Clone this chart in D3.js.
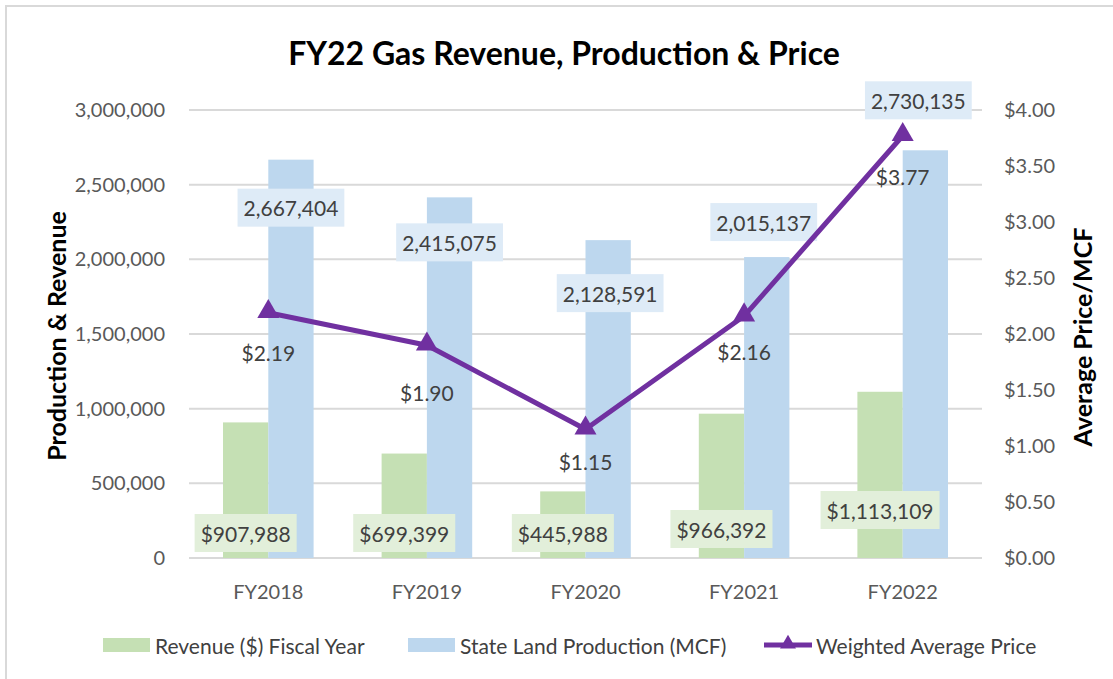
<!DOCTYPE html>
<html>
<head>
<meta charset="utf-8">
<script src="https://cdn.jsdelivr.net/npm/d3@7/dist/d3.min.js"></script>
<style>
  html, body { margin: 0; padding: 0; background: #fff; }
  svg { display: block; }
  text { font-family: Lato, "Open Sans", sans-serif; }
</style>
</head>
<body>
<svg id="chart" width="1113" height="679"></svg>
<script>
// ---- data ----
const categories = ["FY2018", "FY2019", "FY2020", "FY2021", "FY2022"];
const revenue = [907988, 699399, 445988, 966392, 1113109];
const production = [2667404, 2415075, 2128591, 2015137, 2730135];
const price = [2.19, 1.90, 1.15, 2.16, 3.77];
const leftTicks = [0, 500000, 1000000, 1500000, 2000000, 2500000, 3000000];
const rightTicks = [0, 0.5, 1, 1.5, 2, 2.5, 3, 3.5, 4];
const seriesNames = ["Revenue ($) Fiscal Year", "State Land Production (MCF)", "Weighted Average Price"];

// ---- layout (label placement offsets, px) ----
const revLabelDy = [-25, -25, -25, -29, -48];      // from baseline (y=0)
const prodLabelDy = [48, 45, 53, -35, -50];        // from bar top
const prodLabelDx = [0, 0, 2, -3, -7];
const priceLabelDy = [40, 47, 32, 35, 41];

const W = 1113, H = 679;
const plot = { left: 189, right: 982, top: 110, bottom: 558 };
const svg = d3.select("#chart");

const C = {
  green: "#C5E0B4", blue: "#BDD7EE", greenLbl: "#E2EFDA", blueLbl: "#DEEBF7",
  purple: "#7030A0", grid: "#D9D9D9", tick: "#595959", lbl: "#404040"
};

// frame
svg.append("rect").attr("x", 6).attr("y", 6).attr("width", W + 20).attr("height", H + 20)
  .attr("fill", "none").attr("stroke", "#D9D9D9").attr("stroke-width", 2);

const x = d3.scaleBand().domain(categories).range([plot.left, plot.right]).padding(0);
const yL = d3.scaleLinear().domain([0, 3000000]).range([plot.bottom, plot.top]);
const yR = d3.scaleLinear().domain([0, 4]).range([plot.bottom, plot.top]);
const barW = 45.3;
const sub = d3.scaleBand().domain(["rev", "prod"]).range([-barW, barW]).padding(0);
const cx = c => x(c) + x.bandwidth() / 2;

// gridlines
svg.append("g").selectAll("line").data(leftTicks).join("line")
  .attr("x1", plot.left).attr("x2", plot.right)
  .attr("y1", d => yL(d)).attr("y2", d => yL(d))
  .attr("stroke", C.grid).attr("stroke-width", 2);

// left axis
const axL = svg.append("g").attr("transform", `translate(${plot.left - 21},0)`)
  .call(d3.axisLeft(yL).tickValues(leftTicks).tickSize(0).tickFormat(d3.format(",")));
axL.select(".domain").remove();
axL.selectAll("text").attr("font-size", 20).attr("fill", C.tick).attr("font-family", "Lato");

// right axis
const axR = svg.append("g").attr("transform", `translate(${plot.right + 19},0)`)
  .call(d3.axisRight(yR).tickValues(rightTicks).tickSize(0).tickFormat(d => "$" + d3.format(".2f")(d)));
axR.select(".domain").remove();
axR.selectAll("text").attr("font-size", 20).attr("fill", C.tick).attr("font-family", "Lato");

// bottom axis
const axB = svg.append("g").attr("transform", `translate(0,${plot.bottom + 24})`)
  .call(d3.axisBottom(x).tickSize(0));
axB.select(".domain").remove();
axB.selectAll("text").attr("font-size", 20).attr("fill", C.tick).attr("font-family", "Lato");

// bars
const g = svg.append("g");
g.selectAll(".rev").data(categories).join("rect")
  .attr("x", (c) => cx(c) + sub("rev")).attr("width", sub.bandwidth())
  .attr("y", (c, i) => yL(revenue[i])).attr("height", (c, i) => yL(0) - yL(revenue[i]))
  .attr("fill", C.green);
g.selectAll(".prod").data(categories).join("rect")
  .attr("x", (c) => cx(c) + sub("prod")).attr("width", sub.bandwidth())
  .attr("y", (c, i) => yL(production[i])).attr("height", (c, i) => yL(0) - yL(production[i]))
  .attr("fill", C.blue);

// labels with box
function boxLabel(parent, tx, ty, txt, fill) {
  const gg = parent.append("g");
  const t = gg.append("text").attr("x", tx).attr("y", ty).attr("text-anchor", "middle")
    .attr("dominant-baseline", "central").attr("font-size", 21).attr("fill", C.lbl).text(txt);
  const bb = t.node().getBBox();
  gg.insert("rect", "text").attr("x", bb.x - 6).attr("y", ty - 19).attr("width", bb.width + 12)
    .attr("height", 38).attr("fill", fill);
}
const lg = svg.append("g");
categories.forEach((c, i) => {
  boxLabel(lg, cx(c) + sub("rev") + sub.bandwidth() / 2, yL(0) + revLabelDy[i],
    "$" + d3.format(",")(revenue[i]), C.greenLbl);
  boxLabel(lg, cx(c) + sub("prod") + sub.bandwidth() / 2 + prodLabelDx[i], yL(production[i]) + prodLabelDy[i],
    d3.format(",")(production[i]), C.blueLbl);
});

// price line
const line = d3.line().x((d, i) => cx(categories[i])).y(d => yR(d));
svg.append("path").datum(price).attr("d", line).attr("fill", "none")
  .attr("stroke", C.purple).attr("stroke-width", 5).attr("stroke-linejoin", "round");
const tri = d3.symbol().type(d3.symbolTriangle).size(210);
svg.append("g").selectAll("path").data(price).join("path")
  .attr("d", tri).attr("transform", (d, i) => `translate(${cx(categories[i])},${yR(d) - 1})`)
  .attr("fill", C.purple);
svg.append("g").selectAll("text").data(price).join("text")
  .attr("x", (d, i) => cx(categories[i])).attr("y", (d, i) => yR(d) + priceLabelDy[i])
  .attr("text-anchor", "middle").attr("dominant-baseline", "central")
  .attr("font-size", 21).attr("fill", C.lbl).text(d => "$" + d3.format(".2f")(d));

// title
svg.append("text").attr("x", 564).attr("y", 52).attr("text-anchor", "middle")
  .attr("dominant-baseline", "central").attr("font-size", 32).attr("font-weight", "bold")
  .attr("fill", "#000").text("FY22 Gas Revenue, Production & Price");

// axis titles
svg.append("text").attr("transform", "translate(56,336) rotate(-90)").attr("text-anchor", "middle")
  .attr("dominant-baseline", "central").attr("font-size", 25).attr("font-weight", "bold")
  .attr("fill", "#000").text("Production & Revenue");
svg.append("text").attr("transform", "translate(1082,337) rotate(-90)").attr("text-anchor", "middle")
  .attr("dominant-baseline", "central").attr("font-size", 25).attr("font-weight", "bold")
  .attr("fill", "#000").text("Average Price/MCF");

// legend
const leg = svg.append("g").attr("transform", "translate(0,645)");
const legX = [103, 408, 764];
leg.append("rect").attr("x", legX[0]).attr("y", -7).attr("width", 47).attr("height", 14).attr("fill", C.green);
leg.append("rect").attr("x", legX[1]).attr("y", -7).attr("width", 47).attr("height", 14).attr("fill", C.blue);
leg.append("line").attr("x1", legX[2]).attr("x2", legX[2] + 48).attr("y1", 0).attr("y2", 0)
  .attr("stroke", C.purple).attr("stroke-width", 5);
leg.append("path").attr("d", d3.symbol().type(d3.symbolTriangle).size(110))
  .attr("transform", `translate(${legX[2] + 24},-1)`).attr("fill", C.purple);
seriesNames.forEach((s, i) => {
  leg.append("text").attr("x", legX[i] + 52).attr("y", 0).attr("dominant-baseline", "central")
    .attr("font-size", 21).attr("fill", C.lbl).text(s);
});
</script>
</body>
</html>
